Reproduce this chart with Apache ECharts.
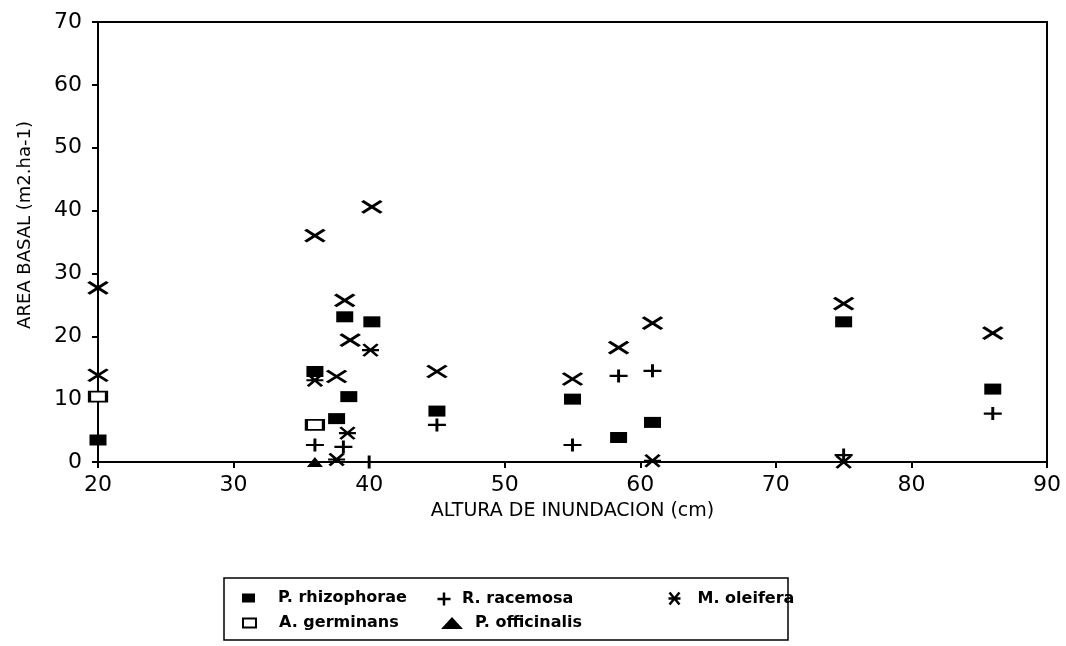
<!DOCTYPE html>
<html>
<head>
<meta charset="utf-8">
<title>Area basal vs altura de inundacion</title>
<script src="https://cdn.jsdelivr.net/npm/echarts@6/dist/echarts.min.js"></script>
<style>
  html, body { margin: 0; padding: 0; background: #fff; }
  #chart { width: 1066px; height: 646px; }
</style>
</head>
<body>
<div id="chart"></div>
<script>
// Basal area (m2/ha) per species against flood height (cm)
const rhizophorae = [[20, 3.5], [36, 14.4], [37.6, 6.9], [38.2, 23.1], [38.5, 10.4], [40.2, 22.3],
  [45, 8.1], [55, 10.0], [58.4, 3.9], [60.9, 6.3], [75, 22.3], [86, 11.6]];
const racemosa = [[36, 2.7], [38.1, 2.4], [40, 0], [45, 5.9], [55, 2.7], [58.4, 13.7],
  [60.9, 14.5], [75, 1.1], [86, 7.7]];
const oleifera = [[36, 13.0], [37.6, 0.4], [38.4, 4.6], [40.1, 17.8], [60.9, 0.2], [75, 0]];
const germinans = [[20, 10.4], [36, 5.9]];
const officinalis = [[36, 0]];
// site totals, drawn as crosses without a legend entry
const totals = [[20, 27.7], [20, 13.8], [36, 36.0], [37.6, 13.6], [38.2, 25.7], [38.6, 19.4],
  [40.2, 40.6], [45, 14.4], [55, 13.2], [58.4, 18.2], [60.9, 22.1], [75, 25.2], [86, 20.5]];

const xTicks = { min: 20, max: 90, interval: 10 };
const yTicks = { min: 0, max: 70, interval: 10 };

const names = ['P. rhizophorae', 'R. racemosa', 'M. oleifera', 'A. germinans', 'P. officinalis'];

const FONT = 'DejaVu Sans';
const INK = '#000';

const ICON_PLUS = 'path://M0,6L12,6M6,0L6,12';
const ICON_STAR = 'path://M0,6L12,6M1,0L11,12M11,0L1,12';
const ICON_CROSS = 'path://M0,0L12,8M12,0L0,8';

const strokeStyle = { color: 'none', borderColor: INK, borderWidth: 2.5, opacity: 1 };

const chart = echarts.init(document.getElementById('chart'), null, { renderer: 'canvas' });

// one legend block per entry so each sits at its own place in the boxed key
function legendItem(name, left, top, icon, itemStyle, w, h, pad) {
  return {
    data: [{ name: name, icon: icon, itemStyle: itemStyle }],
    left: left, top: top,
    itemWidth: w, itemHeight: h,
    selectedMode: false,
    padding: 0,
    textStyle: { fontFamily: FONT, fontSize: 16, fontWeight: 'bold', color: INK, padding: [0, 0, 0, pad] }
  };
}

chart.setOption({
  animation: false,
  backgroundColor: '#fff',
  grid: {
    left: 98, right: 19, top: 22, bottom: 184,
    show: true, borderColor: INK, borderWidth: 2, backgroundColor: 'transparent'
  },
  xAxis: {
    type: 'value',
    min: xTicks.min, max: xTicks.max, interval: xTicks.interval,
    name: 'ALTURA DE INUNDACION (cm)',
    nameLocation: 'middle', nameGap: 40,
    nameTextStyle: { fontFamily: FONT, fontSize: 19, color: INK },
    axisLine: { onZero: false, lineStyle: { color: INK, width: 2 } },
    axisTick: { show: true, inside: false, length: 6, lineStyle: { color: INK, width: 2 } },
    axisLabel: { fontFamily: FONT, fontSize: 22, color: INK, margin: 12 },
    splitLine: { show: false }
  },
  yAxis: {
    type: 'value',
    min: yTicks.min, max: yTicks.max, interval: yTicks.interval,
    name: 'AREA BASAL (m2.ha-1)',
    nameLocation: 'middle', nameGap: 64, nameRotate: 90,
    nameTextStyle: { fontFamily: FONT, fontSize: 18, color: INK, padding: [0, 0, 0, 34] },
    axisLine: { lineStyle: { color: INK, width: 2 } },
    axisTick: { show: true, inside: false, length: 6, lineStyle: { color: INK, width: 2 } },
    axisLabel: { fontFamily: FONT, fontSize: 22, color: INK, margin: 16 },
    splitLine: { show: false }
  },
  legend: [
    legendItem(names[0], 242, 590, 'rect', { color: INK }, 13, 9, 18),
    legendItem(names[1], 435, 590, ICON_PLUS, strokeStyle, 14, 13, 6),
    legendItem(names[2], 666, 590, ICON_STAR, strokeStyle, 18, 12, 9),
    legendItem(names[3], 242, 615, 'rect', { color: '#fff', borderColor: INK, borderWidth: 2 }, 13, 9, 18),
    legendItem(names[4], 441, 615, 'triangle', { color: INK }, 22, 12, 7)
  ],
  graphic: [{
    type: 'rect',
    shape: { x: 224, y: 578, width: 564, height: 62 },
    style: { fill: 'none', stroke: INK, lineWidth: 1.5 },
    silent: true
  }],
  series: [
    {
      name: names[0], type: 'scatter', data: rhizophorae, clip: false,
      symbol: 'rect', symbolSize: [17, 11],
      itemStyle: { color: INK, opacity: 1 }, z: 3
    },
    {
      name: names[1], type: 'scatter', data: racemosa, clip: false,
      symbol: ICON_PLUS, symbolSize: [18, 13],
      itemStyle: strokeStyle, z: 3
    },
    {
      name: names[2], type: 'scatter', data: oleifera, clip: false,
      symbol: ICON_STAR, symbolSize: [17, 12],
      itemStyle: strokeStyle, z: 3
    },
    {
      name: names[3], type: 'scatter', data: germinans, clip: false,
      symbol: 'rect', symbolSize: [17, 10],
      itemStyle: { color: '#fff', borderColor: INK, borderWidth: 2.5, opacity: 1 }, z: 3
    },
    {
      name: names[4], type: 'scatter', data: officinalis, clip: false,
      symbol: 'triangle', symbolSize: [16, 10],
      itemStyle: { color: INK, opacity: 1 }, z: 3
    },
    {
      name: 'Total', type: 'scatter', data: totals, clip: false,
      symbol: ICON_CROSS, symbolSize: [19, 12],
      itemStyle: { color: 'none', borderColor: INK, borderWidth: 3, opacity: 1 }, z: 3
    }
  ]
});
</script>
</body>
</html>
